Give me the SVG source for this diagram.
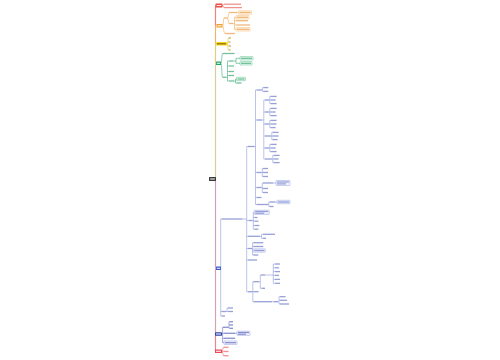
<svg xmlns="http://www.w3.org/2000/svg" width="500" height="360" viewBox="0 0 500 360">
<style>
.tr,.to,.ty,.tg,.tb,.tn,.tR{opacity:.8}
.tr{fill:#e87a72}.to{fill:#eba85e}.ty{fill:#b89a30}.tg{fill:#52b283}.tb{fill:#7d89cc}.tn{fill:#6b77c0}.tR{fill:#ea7680}.tw{fill:#ffffff;opacity:.85}
.c{fill:none;stroke-width:.55}
.cr{stroke:#e8463c}.co{stroke:#f3a13a}.cy{stroke:#e9c62a}.cg{stroke:#2aa96b}.cb{stroke:#8491da}.cn{stroke:#5563bd}.cR{stroke:#e8505c}
.k{fill:none;stroke-width:1.2}
.bo{fill:#fff7ec;stroke:#f3a64a;stroke-width:.4}
.bg{fill:#effaf4;stroke:#3ab47a;stroke-width:.4}
.bb{fill:#f1f3ff;stroke:#8491da;stroke-width:.4}
</style>
<rect x="0" y="0" width="500" height="360" fill="#ffffff"/>
<g id="connectors">
<path class="k" stroke="#ec8478" d="M215.5 5.5V25.8"/>
<path class="k" stroke="#e9b576" d="M215.5 25.8V43.8"/>
<path class="k" stroke="#dcd088" d="M215.5 43.8V63.3"/>
<path class="k" stroke="#d3d0a0" d="M215.5 63.3V179"/>
<path class="k" stroke="#c9a4bd" d="M215.5 179V268.3"/>
<path class="k" stroke="#d3a2b6" d="M215.5 268.3V334"/>
<path class="k" stroke="#e28a94" d="M215.5 334V351.3"/>
<path class="c cr" d="M222.5 5.5C223.3 5.5 223.3 4.2 224 4.2M222.5 5.5C223.3 5.5 223.3 7.6 224 7.6"/>
<path class="c co" d="M222.5 25.8C223.4 25.8 223.4 18 224 18M222.5 25.8C223.6 25.8 223.6 33.5 225 33.5M227.5 18C228.3 18 228.3 12.5 229 12.5M227.5 18C228.3 18 228.3 23.5 229 23.5M237 12.5H238.5M233 23.5H234.5M234.5 17.3V29.3M234.5 17.3H236M234.5 20.7H236M234.5 25H236M234.5 29.3H236"/>
<path class="c cy" d="M227 43.8C227.8 43.8 227.8 38 228.5 38M227 43.8C227.8 43.8 227.8 42 228.5 42M227 43.8C227.8 43.8 227.8 46 228.5 46M227 43.8C227.8 43.8 227.8 50 228.5 50"/>
<path class="c cg" d="M221 63.3C221.8 63.3 221.8 53.5 222.5 53.5M221 63.3C221.8 63.3 221.8 77.3 222.5 77.3M226.5 77.3H227.5M227.5 61V81M227.5 61H229M227.5 66H229M227.5 71.5H229M227.5 75.5H229M227.5 81H229M233 61H236M236 58.3V63.3M236 58.3H240M236 63.3H240M234 81H235.5M235.5 79V83M235.5 79H236.5M235.5 83H236.5"/>
<path class="c cb" d="M220.7 219V316H221.5M220.7 311.5H221.5M220.7 219H221.5M226 311.5H227M227 308V311.5M227 308H228M227 311.5H228"/>
<path class="c cb" d="M242.5 219H246.7M246.7 146.5V291.7M246.7 146.5H248M246.7 220.5H248.5M246.7 236.3H248M246.7 248.5H248M246.7 260H248M246.7 291.7H248"/>
<path class="c cb" d="M254.5 146.5H255.5M255.5 90V204.5M255.5 90H256.5M255.5 120H256.5M255.5 172.5H256.5M255.5 187.5H256.5M255.5 197.5H256.5M255.5 204.5H256.5"/>
<path class="c cb" d="M262 90H262.6M262.6 87.6V91.4M262.6 87.6H263.3M262.6 91.4H263.3"/>
<path class="c cb" d="M262 120H263.8M263.8 100V159M263.8 100H265M263.8 112H265M263.8 124H265M263.8 136H265M263.8 148H265M263.8 159H265"/>
<path class="c cb" d="M269 100H269.8M269.8 96.4V103.6M269.8 96.4H270.6M269.8 100H270.6M269.8 103.6H270.6M269 112H269.8M269.8 108.4V115.6M269.8 108.4H270.6M269.8 112H270.6M269.8 115.6H270.6M269 124H269.8M269.8 120.4V127.6M269.8 120.4H270.6M269.8 124H270.6M269.8 127.6H270.6M271 136H271.8M271.8 132.4V139.6M271.8 132.4H272.6M271.8 136H272.6M271.8 139.6H272.6M269 148H269.8M269.8 144.4V151.6M269.8 144.4H270.6M269.8 148H270.6M269.8 151.6H270.6M272 159H272.8M272.8 155.4V162.6M272.8 155.4H273.6M272.8 159H273.6M272.8 162.6H273.6"/>
<path class="c cb" d="M261.5 172.5H262.3M262.3 168.5V176.5M262.3 168.5H263M262.3 172.5H263M262.3 176.5H263M261.5 187.5H262.3M262.3 183V192.5M262.3 183H263M262.3 188.5H263M262.3 192.5H263M273 183H276M268 204.5H268.8M268.8 202V206.5M268.8 202H269.6M268.8 206.5H269.6M275.6 202H277"/>
<path class="c cb" d="M252.5 220.5H253.3M253.3 212.3V229.2M253.3 212.3H254.2M253.3 217.5H254.4M253.3 221.2H254.4M253.3 225.5H254.4M253.3 229.2H254.4"/>
<path class="c cb" d="M260 236.3H261.5M261.5 234.3V238.3M261.5 234.3H263M261.5 238.3H263M252 248.5H252.6M252.6 242.7V255M252.6 242.7H253.3M252.6 246.5H253.3M252.6 250.5H253.3M252.6 255H253.3"/>
<path class="c cb" d="M252 291.7H252.8M252.8 281.7V301.7M252.8 281.7H253.5M252.8 291.7H253.5M252.8 301.7H253.5M259 281.7H260.3M260.3 275V288.3M260.3 275H261M260.3 288.3H261.5M265 275H273.3M273.3 264V283.3M273.3 264H275M273.3 267.8H275M273.3 271.6H275M273.3 275.4H275M273.3 279.4H275M273.3 283.3H275M272 301.7H273.5M278 301.7H279M279 296.7V304M279 296.7H280M279 300.3H280M279 304H280"/>
<path class="c cn" d="M222 334H222.6M222.6 327.3V342.7M222.6 327.3H223M222.6 333.3H224M222.6 338.3H224M222.6 342.7H224M228 327.3H229M229 321.7V328.3M229 321.7H230M229 325H230M229 328.3H230M235 333.3H237"/>
<path class="c cR" d="M222 351.3C222.8 351.3 222.8 347.3 223.5 347.3M222 351.3C222.8 351.3 222.8 351.5 223.5 351.5M222 351.3C222.8 351.3 222.8 355.7 223.5 355.7"/>
</g>
<g id="root"><rect x="209" y="177" width="7" height="4" rx=".5" fill="#3a3a3a"/><rect class="tw" x="210.2" y="178.4" width="4.6" height="1.2"/></g>
<g id="red-top"><rect x="215.5" y="3.5" width="7" height="4" rx=".4" fill="#e8463c"/><rect class="tw" x="216.5" y="4.9" width="5" height="1.2"/></g>
<g id="r1"><rect class="tr" x="224" y="3.55" width="17" height="1.3"/></g>
<g id="r2"><rect class="tr" x="224" y="6.95" width="18" height="1.3"/></g>
<g id="orange"><rect x="216.5" y="24" width="6" height="3.6" rx=".4" fill="#f39c2c"/><rect class="tw" x="217.4" y="25.2" width="4.2" height="1.2"/></g>
<g id="o1"><rect class="to" x="224" y="17.35" width="3.5" height="1.3"/></g>
<g id="o2"><rect class="to" x="225" y="32.85" width="10" height="1.3"/></g>
<g id="o1a"><rect class="to" x="229" y="11.85" width="8" height="1.3"/></g>
<g id="o1b"><rect class="to" x="229" y="22.85" width="4" height="1.3"/></g>
<g id="o1a1"><rect class="bo" x="238.5" y="10.8" width="13" height="3.4" rx=".4"/><rect class="to" x="239.5" y="11.85" width="11" height="1.3"/></g>
<g id="o1b1"><rect class="bo" x="236" y="15.6" width="13" height="3.4" rx=".4"/><rect class="to" x="237" y="16.65" width="11" height="1.3"/></g>
<g id="o1b2"><rect class="to" x="236" y="20.05" width="12" height="1.3"/></g>
<g id="o1b3"><rect class="to" x="236" y="24.35" width="14" height="1.3"/></g>
<g id="o1b4"><rect class="bo" x="236" y="27.6" width="14" height="3.4" rx=".4"/><rect class="to" x="237" y="28.65" width="12" height="1.3"/></g>
<g id="yellow"><rect x="216" y="42" width="11" height="3.6" rx=".4" fill="#f8d71c"/><rect x="217" y="43.2" width="9" height="1.2" fill="#8a6a10"/></g>
<g id="y1"><rect class="ty" x="228.5" y="37.35" width="2.5" height="1.3"/></g>
<g id="y2"><rect class="ty" x="228.5" y="41.35" width="2" height="1.3"/></g>
<g id="y3"><rect class="ty" x="228.5" y="45.35" width="2.5" height="1.3"/></g>
<g id="y4"><rect class="ty" x="228.5" y="49.35" width="2" height="1.3"/></g>
<g id="green"><rect x="216" y="61.5" width="5" height="3.6" rx=".4" fill="#1fa566"/><rect class="tw" x="216.8" y="62.7" width="3.4" height="1.2"/></g>
<g id="g1"><rect class="tg" x="222.5" y="52.85" width="12" height="1.3"/></g>
<g id="g2"><rect class="tg" x="222.5" y="76.65" width="4" height="1.3"/></g>
<g id="g2a"><rect class="tg" x="229" y="60.35" width="4" height="1.3"/></g>
<g id="g2b"><rect class="tg" x="229" y="65.35" width="5" height="1.3"/></g>
<g id="g2c"><rect class="tg" x="229" y="70.85" width="5" height="1.3"/></g>
<g id="g2d"><rect class="tg" x="229" y="74.85" width="5" height="1.3"/></g>
<g id="g2e"><rect class="tg" x="229" y="80.35" width="5" height="1.3"/></g>
<g id="g2a1"><rect class="bg" x="240" y="56.6" width="13" height="3.4" rx=".4"/><rect class="tg" x="241" y="57.65" width="11" height="1.3"/></g>
<g id="g2a2"><rect class="bg" x="240" y="61.6" width="12" height="3.4" rx=".4"/><rect class="tg" x="241" y="62.65" width="10" height="1.3"/></g>
<g id="g2e1"><rect class="bg" x="236.5" y="77.3" width="9" height="3.4" rx=".4"/><rect class="tg" x="237.5" y="78.35" width="7" height="1.3"/></g>
<g id="g2e2"><rect class="tg" x="236.5" y="82.35" width="5" height="1.3"/></g>
<g id="blue"><rect x="216" y="266.5" width="5" height="3.6" rx=".4" fill="#3d55c8"/><rect class="tw" x="216.8" y="267.7" width="3.4" height="1.2"/></g>
<g id="bL"><rect class="tb" x="221.5" y="218.35" width="21" height="1.3"/></g>
<g id="bP1"><rect class="tb" x="221.5" y="310.85" width="4.5" height="1.3"/></g>
<g id="bP1a"><rect class="tb" x="228" y="307.35" width="5" height="1.3"/></g>
<g id="bP1b"><rect class="tb" x="228" y="310.85" width="5" height="1.3"/></g>
<g id="bP2"><rect class="tb" x="221.5" y="315.35" width="3.5" height="1.3"/></g>
<g id="bA"><rect class="tb" x="248" y="145.85" width="6.5" height="1.3"/></g>
<g id="a1"><rect class="tb" x="256.5" y="89.35" width="5.5" height="1.3"/></g>
<g id="a1a"><rect class="tb" x="263.3" y="86.95" width="5" height="1.3"/></g>
<g id="a1b"><rect class="tb" x="263.3" y="90.75" width="5" height="1.3"/></g>
<g id="a2"><rect class="tb" x="256.5" y="119.35" width="5.5" height="1.3"/></g>
<g id="a2a"><rect class="tb" x="265" y="99.35" width="4" height="1.3"/></g>
<g id="a2a1"><rect class="tb" x="270.6" y="95.75" width="6" height="1.3"/></g>
<g id="a2a2"><rect class="tb" x="270.6" y="99.35" width="5" height="1.3"/></g>
<g id="a2a3"><rect class="tb" x="270.6" y="102.95" width="6" height="1.3"/></g>
<g id="a2b"><rect class="tb" x="265" y="111.35" width="4" height="1.3"/></g>
<g id="a2b1"><rect class="tb" x="270.6" y="107.75" width="6" height="1.3"/></g>
<g id="a2b2"><rect class="tb" x="270.6" y="111.35" width="5" height="1.3"/></g>
<g id="a2b3"><rect class="tb" x="270.6" y="114.95" width="6" height="1.3"/></g>
<g id="a2c"><rect class="tb" x="265" y="123.35" width="4" height="1.3"/></g>
<g id="a2c1"><rect class="tb" x="270.6" y="119.75" width="6" height="1.3"/></g>
<g id="a2c2"><rect class="tb" x="270.6" y="123.35" width="6" height="1.3"/></g>
<g id="a2c3"><rect class="tb" x="270.6" y="126.95" width="5" height="1.3"/></g>
<g id="a2d"><rect class="tb" x="265" y="135.35" width="6" height="1.3"/></g>
<g id="a2d1"><rect class="tb" x="272.6" y="131.75" width="6" height="1.3"/></g>
<g id="a2d2"><rect class="tb" x="272.6" y="135.35" width="6" height="1.3"/></g>
<g id="a2d3"><rect class="tb" x="272.6" y="138.95" width="5" height="1.3"/></g>
<g id="a2e"><rect class="tb" x="265" y="147.35" width="4" height="1.3"/></g>
<g id="a2e1"><rect class="tb" x="270.6" y="143.75" width="6" height="1.3"/></g>
<g id="a2e2"><rect class="tb" x="270.6" y="147.35" width="5" height="1.3"/></g>
<g id="a2e3"><rect class="tb" x="270.6" y="150.95" width="6" height="1.3"/></g>
<g id="a2f"><rect class="tb" x="265" y="158.35" width="7" height="1.3"/></g>
<g id="a2f1"><rect class="tb" x="273.6" y="154.75" width="6" height="1.3"/></g>
<g id="a2f2"><rect class="tb" x="273.6" y="158.35" width="5" height="1.3"/></g>
<g id="a2f3"><rect class="tb" x="273.6" y="161.95" width="6" height="1.3"/></g>
<g id="a3"><rect class="tb" x="256.5" y="171.85" width="5" height="1.3"/></g>
<g id="a3a"><rect class="tb" x="263" y="167.85" width="5" height="1.3"/></g>
<g id="a3b"><rect class="tb" x="263" y="171.85" width="5" height="1.3"/></g>
<g id="a3c"><rect class="tb" x="263" y="175.85" width="5" height="1.3"/></g>
<g id="a4"><rect class="tb" x="256.5" y="186.85" width="5" height="1.3"/></g>
<g id="a4a"><rect class="tb" x="263" y="182.35" width="10" height="1.3"/></g>
<g id="a4a1"><rect class="bb" x="276" y="180.5" width="14" height="5" rx=".4"/><rect class="tb" x="277" y="181.4" width="12" height="1.2"/><rect class="tb" x="277" y="183.3" width="9" height="1.2"/></g>
<g id="a4b"><rect class="tb" x="263" y="187.85" width="5" height="1.3"/></g>
<g id="a4c"><rect class="tb" x="263" y="191.85" width="5" height="1.3"/></g>
<g id="a5"><rect class="tb" x="256.5" y="196.85" width="5" height="1.3"/></g>
<g id="a6"><rect class="tb" x="256.5" y="203.85" width="11.5" height="1.3"/></g>
<g id="a6a"><rect class="tb" x="269.6" y="201.35" width="6" height="1.3"/></g>
<g id="a6a1"><rect class="bb" x="277" y="200.3" width="13" height="3.4" rx=".4"/><rect class="tb" x="278" y="201.35" width="11" height="1.3"/></g>
<g id="a6b"><rect class="tb" x="269.6" y="205.85" width="4" height="1.3"/></g>
<g id="bB"><rect class="tb" x="248.5" y="219.85" width="4" height="1.3"/></g>
<g id="bB1"><rect class="bb" x="254.2" y="210.2" width="15" height="4.2" rx=".4"/><rect class="tb" x="255.2" y="210.9" width="13" height="1.2"/><rect class="tb" x="255.2" y="212.6" width="9" height="1.2"/></g>
<g id="bB2"><rect class="tb" x="254.4" y="216.85" width="3" height="1.3"/></g>
<g id="bB3"><rect class="tb" x="254.4" y="220.55" width="4" height="1.3"/></g>
<g id="bB4"><rect class="tb" x="254.4" y="224.85" width="5" height="1.3"/></g>
<g id="bB5"><rect class="tb" x="254.4" y="228.55" width="4" height="1.3"/></g>
<g id="bC"><rect class="tb" x="248" y="235.65" width="12" height="1.3"/></g>
<g id="bC1"><rect class="tb" x="263" y="233.65" width="12" height="1.3"/></g>
<g id="bC2"><rect class="tb" x="263" y="237.65" width="3" height="1.3"/></g>
<g id="bD"><rect class="tb" x="248" y="247.85" width="4" height="1.3"/></g>
<g id="bD1"><rect class="tb" x="253.3" y="242.05" width="10" height="1.3"/></g>
<g id="bD2"><rect class="tb" x="253.3" y="245.85" width="10" height="1.3"/></g>
<g id="bD3"><rect class="bb" x="253.3" y="248.8" width="12" height="3.4" rx=".4"/><rect class="tb" x="254.3" y="249.85" width="10" height="1.3"/></g>
<g id="bD4"><rect class="tb" x="253.3" y="254.35" width="5" height="1.3"/></g>
<g id="bE"><rect class="tb" x="248" y="259.35" width="9" height="1.3"/></g>
<g id="bF"><rect class="tb" x="248" y="291.05" width="4" height="1.3"/></g>
<g id="bF1"><rect class="tb" x="253.5" y="281.05" width="5.5" height="1.3"/></g>
<g id="bF1a"><rect class="tb" x="261" y="274.35" width="4" height="1.3"/></g>
<g id="bF1a1"><rect class="tb" x="275" y="263.35" width="5" height="1.3"/></g>
<g id="bF1a2"><rect class="tb" x="275" y="267.15" width="4" height="1.3"/></g>
<g id="bF1a3"><rect class="tb" x="275" y="270.95" width="5" height="1.3"/></g>
<g id="bF1a4"><rect class="tb" x="275" y="274.75" width="4" height="1.3"/></g>
<g id="bF1a5"><rect class="tb" x="275" y="278.75" width="5" height="1.3"/></g>
<g id="bF1a6"><rect class="tb" x="275" y="282.65" width="5" height="1.3"/></g>
<g id="bF1b"><rect class="tb" x="261.5" y="287.65" width="3.5" height="1.3"/></g>
<g id="bF2"><rect class="tb" x="253.5" y="291.05" width="5" height="1.3"/></g>
<g id="bF3"><rect class="tb" x="253.5" y="301.05" width="18.5" height="1.3"/></g>
<g id="bF3a"><rect class="tb" x="273.5" y="301.05" width="4.5" height="1.3"/></g>
<g id="bF3a1"><rect class="tb" x="280" y="296.05" width="5.5" height="1.3"/></g>
<g id="bF3a2"><rect class="tb" x="280" y="299.65" width="7" height="1.3"/></g>
<g id="bF3a3"><rect class="tb" x="280" y="303.35" width="9" height="1.3"/></g>
<g id="navy"><rect x="215" y="332.3" width="7" height="3.4" rx=".4" fill="#3344a8"/><rect class="tw" x="216" y="333.4" width="5" height="1.2"/></g>
<g id="n1"><rect class="tn" x="223" y="326.65" width="5" height="1.3"/></g>
<g id="n1a"><rect class="tn" x="230" y="321.05" width="3" height="1.3"/></g>
<g id="n1b"><rect class="tn" x="230" y="324.35" width="3" height="1.3"/></g>
<g id="n1c"><rect class="tn" x="230" y="327.65" width="3" height="1.3"/></g>
<g id="n2"><rect class="tn" x="224" y="332.65" width="11" height="1.3"/></g>
<g id="n2a"><rect class="bb" x="237" y="331.2" width="13" height="4.2" rx=".4"/><rect class="tn" x="238" y="331.9" width="11" height="1.2"/><rect class="tn" x="238" y="333.6" width="8" height="1.2"/></g>
<g id="n3"><rect class="tn" x="224" y="337.65" width="11" height="1.3"/></g>
<g id="n4"><rect class="bb" x="224" y="340.9" width="13" height="3.6" rx=".4"/><rect class="tn" x="225" y="342.05" width="11" height="1.3"/></g>
<g id="red-bottom"><rect x="215" y="349.5" width="7" height="3.6" rx=".4" fill="#e84a56"/><rect class="tw" x="216" y="350.7" width="5" height="1.2"/></g>
<g id="rb1"><rect class="tR" x="223.5" y="346.65" width="5" height="1.3"/></g>
<g id="rb2"><rect class="tR" x="223.5" y="350.85" width="5" height="1.3"/></g>
<g id="rb3"><rect class="tR" x="223.5" y="355.05" width="5" height="1.3"/></g>
</svg>
